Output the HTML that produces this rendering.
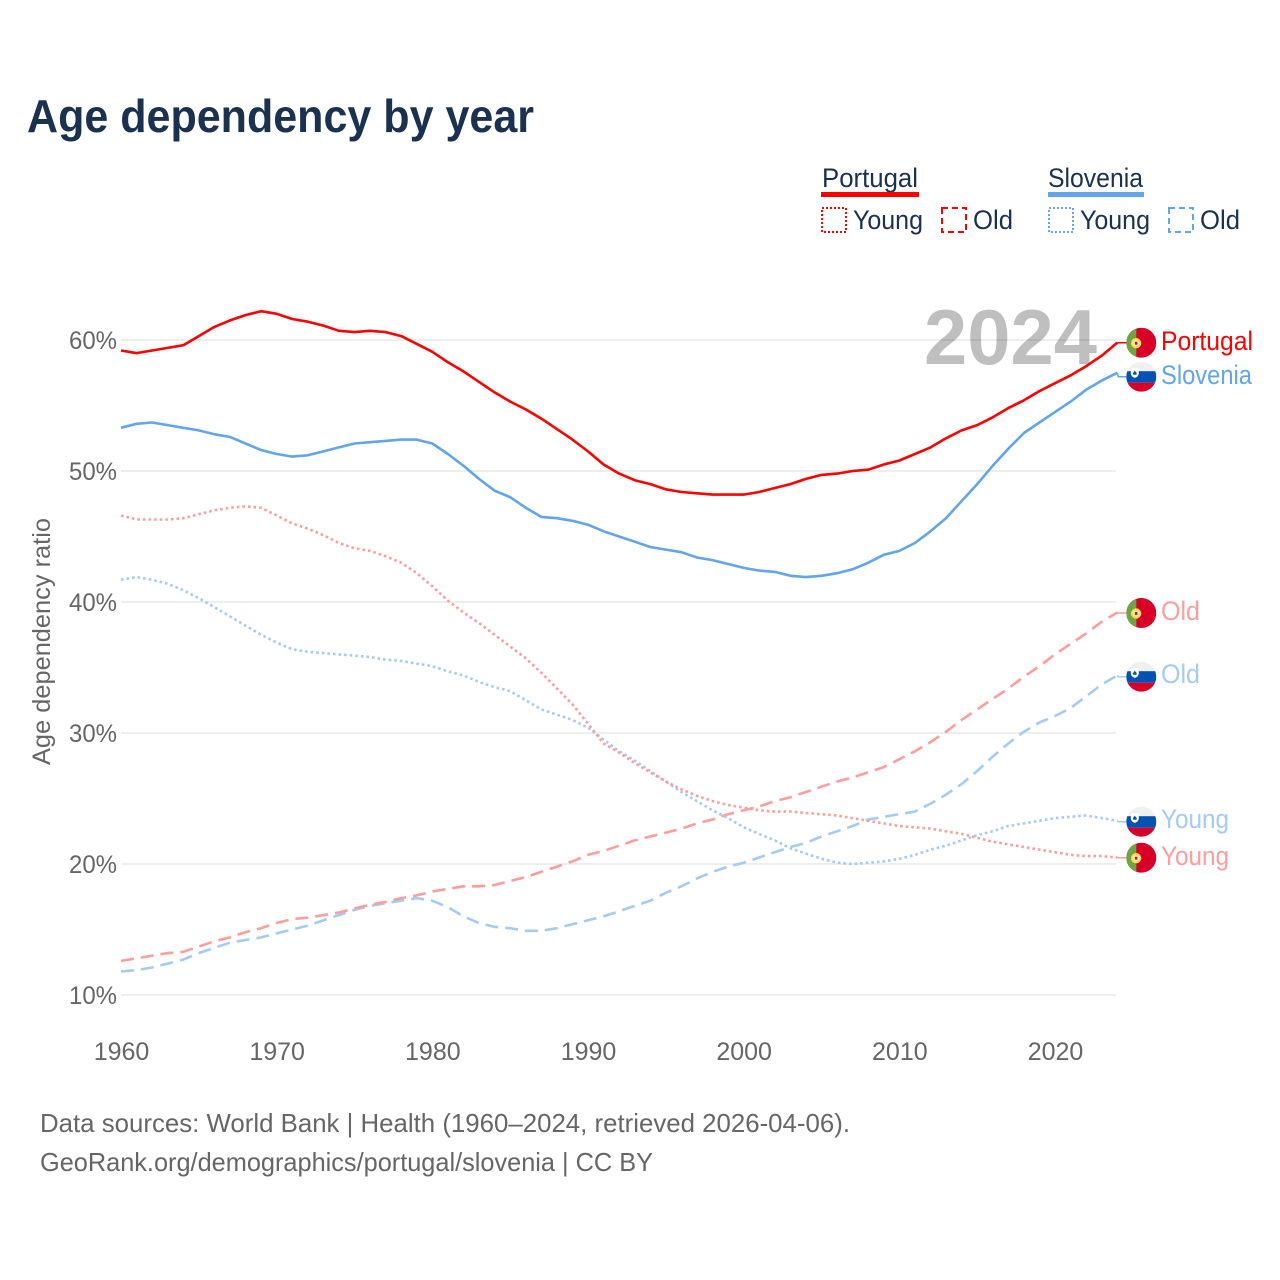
<!DOCTYPE html>
<html lang="en">
<head>
<meta charset="utf-8">
<title>Age dependency by year</title>
<style>
html,body{margin:0;padding:0;background:#fff;}
svg{display:block;font-family:"Liberation Sans",sans-serif;}
</style>
</head>
<body>
<svg id="chart" xmlns="http://www.w3.org/2000/svg" width="1280" height="1280" viewBox="0 0 1280 1280">
  <rect width="1280" height="1280" fill="#fff"/>
  <defs>
    <clipPath id="flag-clip"><circle cx="0" cy="0" r="15"/></clipPath>
  </defs>
  <text x="27" y="132" font-size="46" font-weight="700" fill="#1a3150" textLength="507" lengthAdjust="spacingAndGlyphs">Age dependency by year</text>

  <g fill="#1a3150" font-size="27">
    <text x="822" y="187" textLength="96" lengthAdjust="spacingAndGlyphs">Portugal</text>
    <rect x="821" y="192" width="98" height="5" fill="#ff0000"/>
    <rect x="822" y="208" width="24" height="24" fill="none" stroke="#ff0000" stroke-width="2" stroke-dasharray="2 2"/>
    <text x="853" y="229" textLength="70" lengthAdjust="spacingAndGlyphs">Young</text>
    <rect x="942" y="208" width="24" height="24" fill="none" stroke="#ff0000" stroke-width="2" stroke-dasharray="6 4"/>
    <text x="973" y="229" textLength="40" lengthAdjust="spacingAndGlyphs">Old</text>
    <text x="1048" y="187" textLength="95" lengthAdjust="spacingAndGlyphs">Slovenia</text>
    <rect x="1048" y="192" width="96" height="5" fill="#60a5ee"/>
    <rect x="1049" y="208" width="24" height="24" fill="none" stroke="#60a5ee" stroke-width="2" stroke-dasharray="2 2"/>
    <text x="1080" y="229" textLength="70" lengthAdjust="spacingAndGlyphs">Young</text>
    <rect x="1169" y="208" width="24" height="24" fill="none" stroke="#60a5ee" stroke-width="2" stroke-dasharray="6 4"/>
    <text x="1200" y="229" textLength="40" lengthAdjust="spacingAndGlyphs">Old</text>
  </g>

  <g id="grid"></g>
  <text x="924" y="364" font-size="78" font-weight="700" fill="#000" fill-opacity="0.25" textLength="173" lengthAdjust="spacingAndGlyphs">2024</text>
  <g id="y-axis"></g>
  <g id="x-axis"></g>
  <text transform="translate(50 765) rotate(-90)" x="0" y="0" font-size="25" fill="#666" textLength="247" lengthAdjust="spacingAndGlyphs">Age dependency ratio</text>
  <g id="series"></g>
  <g id="end-labels"></g>

  <g font-size="26" fill="#666">
    <text x="40" y="1132" textLength="810" lengthAdjust="spacingAndGlyphs">Data sources: World Bank | Health (1960–2024, retrieved 2026-04-06).</text>
    <text x="40" y="1171" textLength="613" lengthAdjust="spacingAndGlyphs">GeoRank.org/demographics/portugal/slovenia | CC BY</text>
  </g>
</svg>
<script>
const startYear = 1960;
const xTicks = [1960, 1970, 1980, 1990, 2000, 2010, 2020];
const yTicks = [10, 20, 30, 40, 50, 60];
const yTickLabels = ['10%', '20%', '30%', '40%', '50%', '60%'];
const portugalTotal = [59.2,59.0,59.2,59.4,59.6,60.3,61.0,61.5,61.9,62.2,62.0,61.6,61.4,61.1,60.7,60.6,60.7,60.6,60.3,59.7,59.1,58.3,57.6,56.8,56.0,55.3,54.7,54.0,53.2,52.4,51.5,50.5,49.8,49.3,49.0,48.6,48.4,48.3,48.2,48.2,48.2,48.4,48.7,49.0,49.4,49.7,49.8,50.0,50.1,50.5,50.8,51.3,51.8,52.5,53.1,53.5,54.1,54.8,55.4,56.1,56.7,57.3,58.0,58.8,59.8];
const sloveniaTotal = [53.3,53.6,53.7,53.5,53.3,53.1,52.8,52.6,52.1,51.6,51.3,51.1,51.2,51.5,51.8,52.1,52.2,52.3,52.4,52.4,52.1,51.3,50.4,49.4,48.5,48.0,47.2,46.5,46.4,46.2,45.9,45.4,45.0,44.6,44.2,44.0,43.8,43.4,43.2,42.9,42.6,42.4,42.3,42.0,41.9,42.0,42.2,42.5,43.0,43.6,43.9,44.5,45.4,46.4,47.7,49.0,50.4,51.7,52.9,53.7,54.5,55.3,56.2,56.9,57.5];
const portugalYoung = [46.6,46.3,46.3,46.3,46.4,46.7,47.0,47.2,47.3,47.2,46.6,46.0,45.6,45.1,44.5,44.1,43.9,43.5,43.0,42.2,41.2,40.1,39.2,38.4,37.5,36.6,35.7,34.6,33.4,32.2,30.7,29.2,28.5,27.7,27.0,26.3,25.7,25.2,24.8,24.5,24.3,24.1,24.0,24.0,23.9,23.8,23.7,23.5,23.3,23.1,22.9,22.8,22.7,22.5,22.3,22.0,21.7,21.5,21.3,21.1,20.9,20.7,20.6,20.6,20.5];
const portugalOld = [12.6,12.8,13.0,13.2,13.3,13.7,14.1,14.4,14.8,15.1,15.5,15.8,15.9,16.1,16.3,16.6,16.9,17.1,17.4,17.6,17.9,18.1,18.3,18.3,18.4,18.7,19.0,19.4,19.8,20.2,20.7,21.0,21.4,21.8,22.1,22.4,22.7,23.1,23.4,23.8,24.1,24.4,24.8,25.1,25.5,25.9,26.3,26.6,27.0,27.4,28.0,28.6,29.3,30.1,31.0,31.8,32.6,33.4,34.3,35.1,36.0,36.8,37.6,38.5,39.2];
const sloveniaYoung = [41.7,41.9,41.7,41.4,40.9,40.3,39.6,38.9,38.2,37.5,36.9,36.4,36.2,36.1,36.0,35.9,35.8,35.6,35.5,35.3,35.1,34.7,34.4,33.9,33.5,33.2,32.5,31.8,31.4,31.0,30.4,29.5,28.6,27.9,27.1,26.3,25.5,24.8,24.1,23.5,22.8,22.3,21.8,21.2,20.8,20.4,20.1,20.0,20.1,20.2,20.4,20.7,21.1,21.4,21.8,22.2,22.5,22.9,23.1,23.3,23.5,23.6,23.7,23.5,23.3];
const sloveniaOld = [11.8,11.9,12.1,12.4,12.7,13.2,13.6,14.0,14.2,14.4,14.7,15.0,15.3,15.7,16.1,16.5,16.8,17.0,17.2,17.4,17.2,16.7,16.0,15.5,15.2,15.1,14.9,14.9,15.1,15.4,15.7,16.0,16.4,16.8,17.2,17.8,18.3,18.9,19.4,19.8,20.1,20.5,20.9,21.3,21.6,22.1,22.5,22.9,23.4,23.6,23.8,24.0,24.6,25.3,26.1,27.1,28.2,29.2,30.1,30.8,31.3,31.9,32.8,33.7,34.4];

const NS = 'http://www.w3.org/2000/svg';
function xScale(year) { return 121 + (year - 1960) * (1055 - 121) / 60; }
function yScale(pct) { return 995 - (pct - 10) * 13.1; }
function make(tag, attrs, parent) {
  const el = document.createElementNS(NS, tag);
  Object.keys(attrs).forEach(function (k) { el.setAttribute(k, attrs[k]); });
  parent.appendChild(el);
  return el;
}

const gridGroup = document.getElementById('grid');
const yAxisGroup = document.getElementById('y-axis');
yTicks.forEach(function (t, i) {
  const line = make('line', { x1: 121, x2: 1116, y1: yScale(t), y2: yScale(t), stroke: '#e9e9e9', 'stroke-width': 1.4 }, gridGroup);
  
  
  const label = make('text', { x: 117, y: yScale(t) + 9, 'text-anchor': 'end', 'font-size': 25, fill: '#666', textLength: 48, lengthAdjust: 'spacingAndGlyphs' }, yAxisGroup);
  label.textContent = yTickLabels[i];
  
  
});

const xAxisGroup = document.getElementById('x-axis');
xTicks.forEach(function (t) {
  const label = make('text', { x: xScale(t) + 0.5, y: 1060, 'text-anchor': 'middle', 'font-size': 25, fill: '#666' }, xAxisGroup);
  label.textContent = String(t);
  
  
});

const seriesGroup = document.getElementById('series');
function drawLine(values, color, dash, name) {
  const pts = values.map(function (v, i) { return xScale(startYear + i).toFixed(1) + ',' + yScale(v).toFixed(1); }).join(' ');
  const attrs = { points: pts, fill: 'none', stroke: color, 'stroke-width': 2.6, 'stroke-linejoin': 'round' };
  if (dash) attrs['stroke-dasharray'] = dash;
  const line = make('polyline', attrs, seriesGroup);
  
  
}
drawLine(sloveniaOld, '#a3cbf5', '13 7', 'line-slovenia-old');
drawLine(portugalOld, '#ff9c9c', '13 7', 'line-portugal-old');
drawLine(sloveniaYoung, '#a3cbf5', '2.6 3', 'line-slovenia-young');
drawLine(portugalYoung, '#ff9c9c', '2.6 3', 'line-portugal-young');
drawLine(sloveniaTotal, '#60a5ee', '', 'line-slovenia-total');
drawLine(portugalTotal, '#ff0000', '', 'line-portugal-total');

const labelsGroup = document.getElementById('end-labels');
function drawFlag(parent, country, cy) {
  const g = make('g', { transform: 'translate(1141.3 ' + cy + ')', 'clip-path': 'url(#flag-clip)' }, parent);
  
  
  if (country === 'portugal') {
    make('rect', { x: -15, y: -15, width: 30, height: 30, fill: '#d80027' }, g);
    make('rect', { x: -15, y: -15, width: 10, height: 30, fill: '#6da544' }, g);
    make('circle', { cx: -5.2, cy: 0.5, r: 4.2, fill: '#f6e9c0', stroke: '#ffda44', 'stroke-width': 2 }, g);
    make('rect', { x: -6.4, y: -0.9, width: 2.4, height: 2.8, fill: '#d80027' }, g);
  } else {
    make('rect', { x: -15, y: -15, width: 30, height: 30, fill: '#f0f0f0' }, g);
    make('rect', { x: -15, y: -5.5, width: 30, height: 11.5, fill: '#0052b4' }, g);
    make('rect', { x: -15, y: 6, width: 30, height: 9, fill: '#d80027' }, g);
    make('path', { d: 'M-10.5 -8.5 L-2.5 -8.5 L-2.5 -3 Q-3 0 -6.5 1.2 Q-10 0 -10.5 -3 Z', fill: '#fff' }, g);
    make('path', { d: 'M-8.5 -3.5 L-6.5 -6 L-4.5 -3.5 L-5 -2 L-8 -2 Z', fill: '#0052b4' }, g);
  }
}
function drawEnd(values, country, text, color, labelY, name) {
  const y = yScale(values[values.length - 1]);
  const flagY = labelY.flagY;
  const stub = make('polyline', { points: xScale(2024) + ',' + y + ' ' + (xScale(2024) + 1) + ',' + flagY + ' 1127,' + flagY, fill: 'none', stroke: color, 'stroke-width': 1.5 }, labelsGroup);
  
  
  drawFlag(labelsGroup, country, flagY);
  const label = make('text', { x: 1161, y: labelY.baseline, 'font-size': 27, fill: color, textLength: labelY.width, lengthAdjust: 'spacingAndGlyphs' }, labelsGroup);
  label.textContent = text;
  
  
}
drawEnd(portugalTotal, 'portugal', 'Portugal', '#ff0000', { baseline: 350, width: 92, flagY: 342.7 }, 'portugal-total');
drawEnd(sloveniaTotal, 'slovenia', 'Slovenia', '#60a5ee', { baseline: 384, width: 91, flagY: 376.7 }, 'slovenia-total');
drawEnd(portugalOld, 'portugal', 'Old', '#ff9c9c', { baseline: 620, width: 39, flagY: 613 }, 'portugal-old');
drawEnd(sloveniaOld, 'slovenia', 'Old', '#a3cbf5', { baseline: 683, width: 39, flagY: 676.7 }, 'slovenia-old');
drawEnd(sloveniaYoung, 'slovenia', 'Young', '#a3cbf5', { baseline: 828, width: 68, flagY: 821.7 }, 'slovenia-young');
drawEnd(portugalYoung, 'portugal', 'Young', '#ff9c9c', { baseline: 865, width: 68, flagY: 857.7 }, 'portugal-young');
</script>
</body>
</html>
